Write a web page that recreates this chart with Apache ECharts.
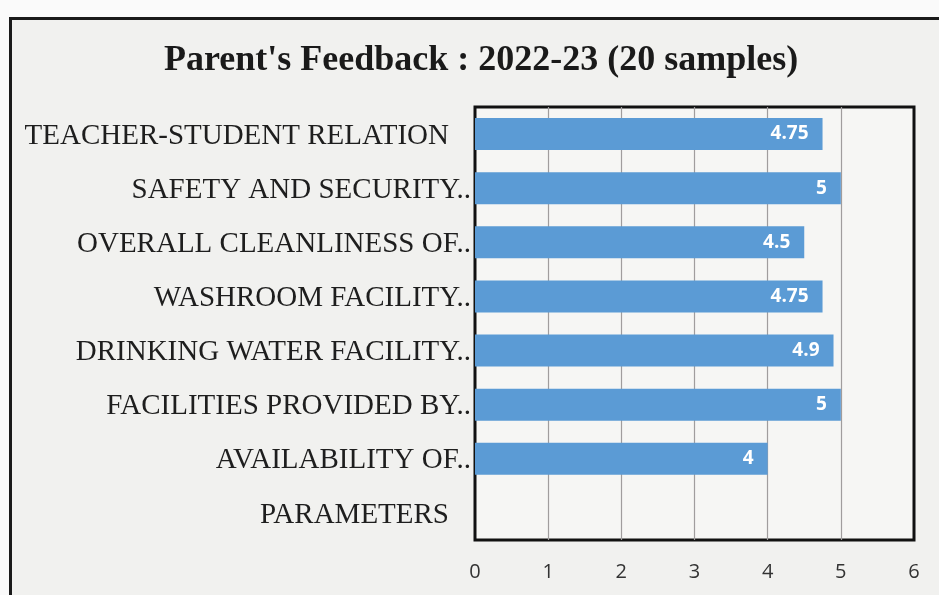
<!DOCTYPE html>
<html>
<head>
<meta charset="utf-8">
<script src="https://cdn.jsdelivr.net/npm/echarts@6/dist/echarts.min.js"></script>
<style>html,body{margin:0;padding:0;background:#fafafa;}#c{width:939px;height:595px;}</style>
</head>
<body>
<div id="c"></div>
<script>
const titleText = "Parent's Feedback : 2022-23 (20 samples)";
const categories = [
  "TEACHER-STUDENT RELATION",
  "SAFETY AND SECURITY..",
  "OVERALL CLEANLINESS OF..",
  "WASHROOM FACILITY..",
  "DRINKING WATER FACILITY..",
  "FACILITIES PROVIDED BY..",
  "AVAILABILITY OF..",
  "PARAMETERS"
];
const scores = [4.75, 5, 4.5, 4.75, 4.9, 5, 4, null];
const xTicks = { min: 0, max: 6, interval: 1 };

const chart = echarts.init(document.getElementById('c'), null, { renderer: 'canvas' });
chart.setOption({
  backgroundColor: '#fafafa',
  animation: false,
  graphic: [{
    type: 'rect', left: 9, top: 17, z: -10,
    shape: { x: 0, y: 0, width: 940, height: 600 },
    style: { fill: '#f1f1ef', stroke: '#1a1a1a', lineWidth: 3 }
  }],
  title: {
    text: titleText, left: 159, top: 38,
    textStyle: { fontFamily: 'Liberation Serif', fontWeight: 'bold', fontSize: 36, color: '#1a1a1a' }
  },
  grid: {
    left: 475, right: 25, top: 107, bottom: 55,
    show: true, borderColor: '#111', borderWidth: 3, backgroundColor: '#f6f6f4'
  },
  xAxis: {
    type: 'value', min: xTicks.min, max: xTicks.max, interval: xTicks.interval,
    axisLine: { show: false }, axisTick: { show: false },
    splitLine: { show: true, showMinLine: false, showMaxLine: false, lineStyle: { color: '#a09d9d', width: 1.2 } },
    axisLabel: { margin: 22, fontFamily: 'Open Sans', fontSize: 20, color: '#333' }
  },
  yAxis: {
    type: 'category', data: categories, inverse: true,
    axisLine: { show: false }, axisTick: { show: false },
    axisLabel: {
      margin: 4, fontFamily: 'Liberation Serif', fontSize: 29, color: '#1e1e1e', padding: [4, 0, 0, 0],
      formatter: v => v.endsWith('..') ? v : '{p|' + v + '}',
      rich: { p: { fontFamily: 'Liberation Serif', fontSize: 29, color: '#1e1e1e', padding: [0, 22, 0, 0] } }
    }
  },
  series: [{
    type: 'bar', data: scores, barWidth: 32,
    itemStyle: { color: '#5b9bd5' },
    label: {
      show: true, position: 'insideRight', distance: 14,
      fontFamily: 'Open Sans', fontWeight: 'bold', fontSize: 19, color: '#ffffff'
    }
  }]
});
</script>
</body>
</html>
